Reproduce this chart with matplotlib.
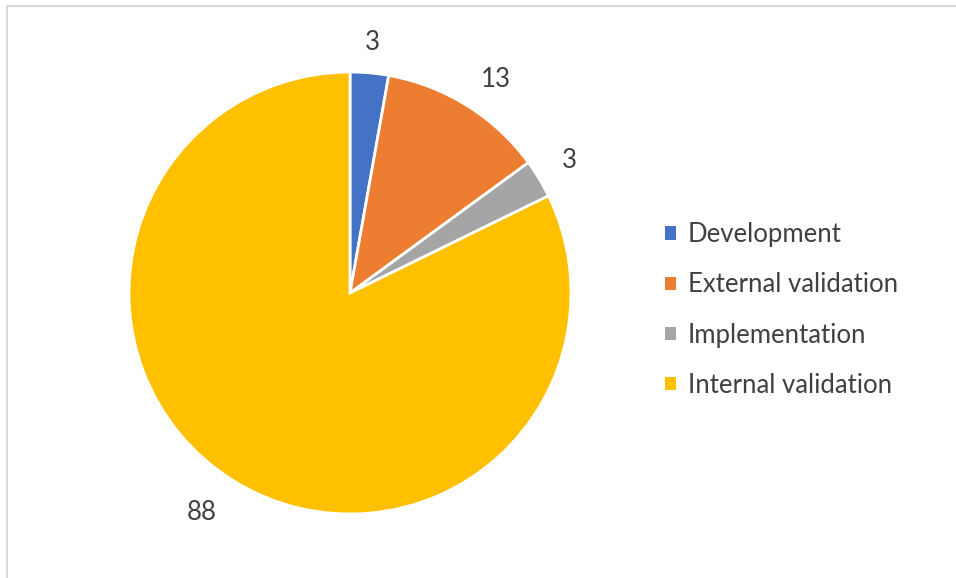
import numpy as np
import matplotlib
matplotlib.use("Agg")
import matplotlib.pyplot as plt
from matplotlib.lines import Line2D
from matplotlib.patches import Patch

categories = ["Development", "External validation", "Implementation", "Internal validation"]
values = [3, 13, 3, 88]
colors = ["#4472C4", "#ED7D31", "#A5A5A5", "#FFC000"]

W, H = 956, 578
fig = plt.figure(figsize=(W / 100, H / 100), dpi=100)
fig.patch.set_facecolor("white")

# chart frame (top and left edges visible)
fig.add_artist(Line2D([7 / W, 7 / W], [0, 1 - 6 / H], transform=fig.transFigure,
                      color="#D9D9D9", lw=1.5))
fig.add_artist(Line2D([7 / W, 1], [1 - 6 / H, 1 - 6 / H], transform=fig.transFigure,
                      color="#D9D9D9", lw=1.5))

cx, cy, r = 350, 293, 221
ax = fig.add_axes([(cx - r) / W, (H - cy - r) / H, 2 * r / W, 2 * r / H])
wedges, _ = ax.pie(values, colors=colors, startangle=90, counterclock=False,
                   radius=1.0, wedgeprops=dict(edgecolor="white", linewidth=2.0))
ax.set_xlim(-1, 1)
ax.set_ylim(-1, 1)
ax.set_aspect("equal")
ax.axis("off")

font = "Lato"
text_color = "#404040"
fs = 18.5
label_dist = [1.14, 1.17, 1.16, 1.2]
label_shift = [0, -2.5, 0, -2.0]  # small angular nudges (degrees)
for w, v, d, s in zip(wedges, values, label_dist, label_shift):
    ang = np.deg2rad((w.theta1 + w.theta2) / 2 + s)
    ax.text(d * np.cos(ang), d * np.sin(ang), str(v), ha="center", va="center",
            fontsize=fs, color=text_color, family=font, clip_on=False)

handles = [Patch(facecolor=c, edgecolor="none") for c in colors]
fig.legend(handles, categories, loc="center left", bbox_to_anchor=(665 / W, 1 - 310 / H),
           frameon=False, labelcolor=text_color,
           prop=dict(family=font, size=fs), handlelength=0.43, handleheight=0.43,
           handletextpad=0.45, labelspacing=0.98, borderpad=0, borderaxespad=0)

fig.savefig("out.png", dpi=100, facecolor="white")
